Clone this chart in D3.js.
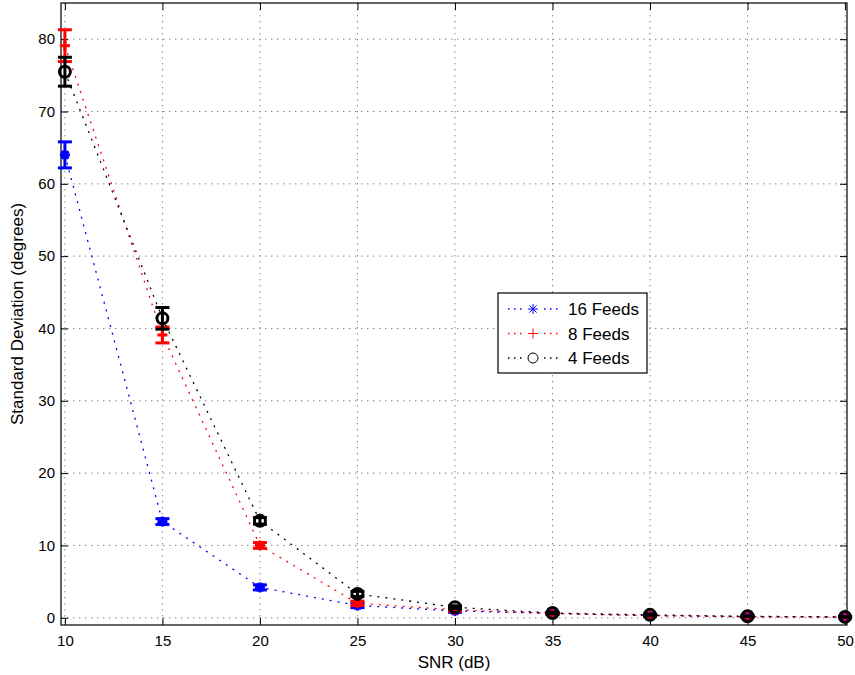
<!DOCTYPE html>
<html><head><meta charset="utf-8">
<script src="https://cdn.jsdelivr.net/npm/d3@7"></script>
<style>body{margin:0;background:#fff}svg{display:block}text{font-family:"Liberation Sans",Arial,sans-serif}</style>
</head><body><svg id="c" width="855" height="675"></svg>
<script>
const snr = [10, 15, 20, 25, 30, 35, 40, 45, 50];
const blueVals = [64.0, 13.3, 4.2, 1.7, 0.95, 0.6, 0.3, 0.15, 0.1];
const blueErr = [1.8, 0.4, 0.35, 0.3, 0.2, 0.1, 0.1, 0.05, 0.05];
const redVals = [79.1, 39.1, 10.0, 2.0, 1.1, 0.6, 0.3, 0.15, 0.1];
const redErr = [2.2, 1.1, 0.4, 0.3, 0.2, 0.1, 0.1, 0.05, 0.05];
const blackVals = [75.5, 41.4, 13.4, 3.3, 1.45, 0.65, 0.4, 0.2, 0.12];
const blackErr = [2.0, 1.5, 0.45, 0.35, 0.2, 0.1, 0.1, 0.05, 0.05];
const seriesNames = ["16 Feeds", "8 Feeds", "4 Feeds"];
const xTicks = [10, 15, 20, 25, 30, 35, 40, 45, 50];
const yTicks = [0, 10, 20, 30, 40, 50, 60, 70, 80];

const svg = d3.select("#c");
const L = 61, R = 847, T = 3, B = 625;
const x = d3.scaleLinear().domain([9.8, 50.1]).range([L, R]);
const y = d3.scaleLinear().domain([-1, 85]).range([B, T]);

// grid
const g = svg.append("g");
g.selectAll(".gx").data(xTicks).join("line")
  .attr("x1", d => x(d)).attr("x2", d => x(d)).attr("y1", T).attr("y2", B)
  .attr("stroke", "#888").attr("stroke-width", 1).attr("stroke-dasharray", "1.5,4.5");
g.selectAll(".gy").data(yTicks).join("line")
  .attr("y1", d => y(d)).attr("y2", d => y(d)).attr("x1", L).attr("x2", R)
  .attr("stroke", "#888").attr("stroke-width", 1).attr("stroke-dasharray", "1.5,4.5");

// axes
const xAxisB = d3.axisBottom(x).tickValues(xTicks).tickSize(-7).tickPadding(10);
const xAxisT = d3.axisTop(x).tickValues(xTicks).tickSize(-7).tickFormat("");
const yAxisL = d3.axisLeft(y).tickValues(yTicks).tickSize(-7).tickPadding(6);
const yAxisR = d3.axisRight(y).tickValues(yTicks).tickSize(-7).tickFormat("");
function style(sel){
  sel.select(".domain").remove();
  sel.selectAll("line").attr("stroke", "#000").attr("stroke-width", 1);
  sel.selectAll("text").attr("font-size", 15).attr("fill", "#000").attr("font-family", "Liberation Sans, Arial, sans-serif");
}
svg.append("g").attr("transform", `translate(0,${B})`).call(xAxisB).call(style);
svg.append("g").attr("transform", `translate(0,${T})`).call(xAxisT).call(style);
svg.append("g").attr("transform", `translate(${L},0)`).call(yAxisL).call(style);
svg.append("g").attr("transform", `translate(${R},0)`).call(yAxisR).call(style);
svg.append("rect").attr("x", L).attr("y", T).attr("width", R - L).attr("height", B - T)
  .attr("fill", "none").attr("stroke", "#000").attr("stroke-width", 1.2);

svg.append("text").attr("x", (L + R) / 2).attr("y", 668).attr("text-anchor", "middle")
  .attr("font-size", 17).text("SNR (dB)");
svg.append("text").attr("transform", `translate(23,${(T + B) / 2}) rotate(-90)`)
  .attr("text-anchor", "middle").attr("font-size", 17).text("Standard Deviation (degrees)");

const series = [
  {name: seriesNames[0], vals: blueVals, err: blueErr, color: "#0000ff", marker: "star"},
  {name: seriesNames[1], vals: redVals, err: redErr, color: "#ff0000", marker: "plus"},
  {name: seriesNames[2], vals: blackVals, err: blackErr, color: "#000000", marker: "circle"}
];

function drawMarker(sel, type, color, cx, cy, s, w){
  if (type === "circle") {
    sel.append("circle").attr("cx", cx).attr("cy", cy).attr("r", s)
      .attr("fill", "none").attr("stroke", color).attr("stroke-width", w);
  } else {
    const segs = [[-s,0,s,0],[0,-s,0,s]];
    if (type === "star") { const d = s*0.72; segs.push([-d,-d,d,d],[-d,d,d,-d]); }
    segs.forEach(q => sel.append("line").attr("x1", cx+q[0]).attr("y1", cy+q[1])
      .attr("x2", cx+q[2]).attr("y2", cy+q[3]).attr("stroke", color).attr("stroke-width", w));
  }
}

const line = d3.line().x((d,i) => x(snr[i])).y(d => y(d));
series.forEach(s => {
  const gg = svg.append("g");
  gg.append("path").attr("d", line(s.vals)).attr("fill", "none")
    .attr("stroke", s.color).attr("stroke-width", 1.3).attr("stroke-dasharray", "2,6");
  s.vals.forEach((v, i) => {
    const cx = x(snr[i]), y1 = y(v + s.err[i]), y0 = y(v - s.err[i]);
    gg.append("line").attr("x1", cx).attr("x2", cx).attr("y1", y1).attr("y2", y0)
      .attr("stroke", s.color).attr("stroke-width", 3);
    [y1, y0].forEach(yy => gg.append("line").attr("x1", cx - 7).attr("x2", cx + 7)
      .attr("y1", yy).attr("y2", yy).attr("stroke", s.color).attr("stroke-width", 3));
    drawMarker(gg, s.marker, s.color, cx, y(v), s.marker === "circle" ? 5.5 : 5, 3);
  });
});

// legend
const lg = svg.append("g");
lg.append("rect").attr("x", 498).attr("y", 293).attr("width", 149).attr("height", 80)
  .attr("fill", "#fff").attr("stroke", "#000").attr("stroke-width", 1.2);
series.forEach((s, i) => {
  const yy = 309 + i * 24.5;
  lg.append("line").attr("x1", 508).attr("x2", 558).attr("y1", yy).attr("y2", yy)
    .attr("stroke", s.color).attr("stroke-width", 1.3).attr("stroke-dasharray", "1.5,4.5");
  lg.append("rect").attr("x", 526).attr("y", yy - 6).attr("width", 14).attr("height", 12).attr("fill", "#fff");
  drawMarker(lg, s.marker, s.color, 533, yy, 5, 1);
  lg.append("text").attr("x", 568).attr("y", yy + 6).attr("font-size", 17).text(s.name);
});
</script></body></html>
